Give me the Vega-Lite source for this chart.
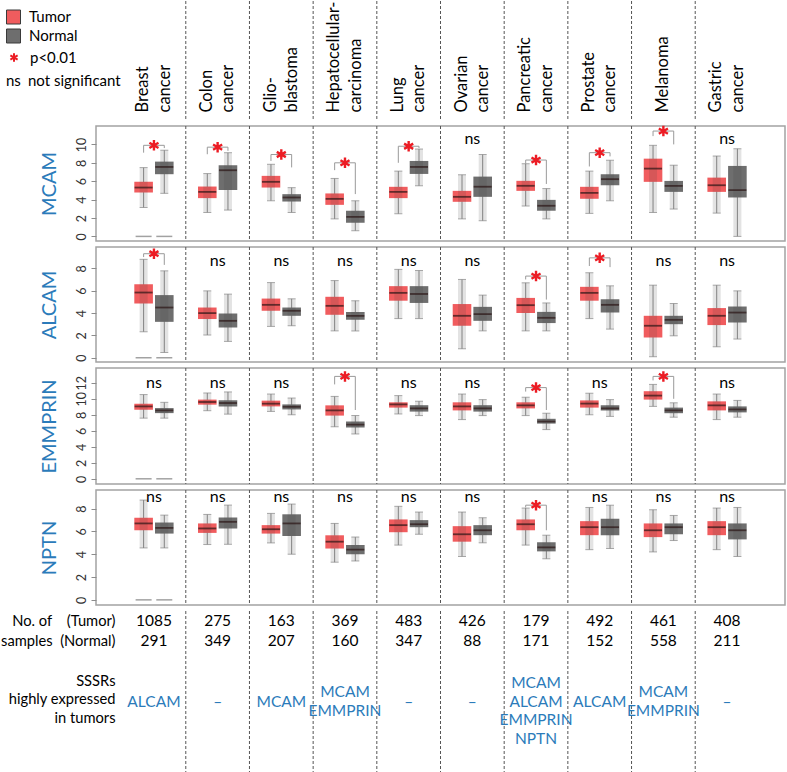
{
"$schema": "https://vega.github.io/schema/vega-lite/v6.json",
"padding": 0,
"background": "white",
"spacing": 6,
"bounds": "flush",
"config": {
  "font": "Lato",
  "view": {"stroke": null},
  "axisY": {"labelAngle": -90, "labelFontSize": 12.5, "labelColor": "#333333", "labelOverlap": false, "tickCount": 20, "tickColor": "#8c8c8c", "tickSize": 5, "tickWidth": 1, "labelPadding": 3, "domain": false, "grid": false, "titleColor": "#2b7bba", "titleFontSize": 20, "titleFontWeight": "normal", "titlePadding": 16},
  "legend": {"labelFontSize": 15, "labelColor": "#000000", "padding": 0, "rowPadding": 0, "labelOffset": 8, "titleFontSize": 15, "titleFontWeight": "normal", "titleColor": "#000000"}
},
"datasets": {
  "cancers": [
    {"cancer": "Breast cancer"}, {"cancer": "Colon cancer"}, {"cancer": "Glioblastoma"}, {"cancer": "Hepatocellular carcinoma"}, {"cancer": "Lung cancer"},
    {"cancer": "Ovarian cancer"}, {"cancer": "Pancreatic cancer"}, {"cancer": "Prostate cancer"}, {"cancer": "Melanoma"}, {"cancer": "Gastric cancer"}
  ],
  "boxes": [
    {"gene":"MCAM","cancer":"Breast cancer","group":"Tumor","lo":3.14,"q1":4.77,"med":5.31,"q3":5.93,"hi":7.48},
    {"gene":"MCAM","cancer":"Breast cancer","group":"Normal","lo":4.68,"q1":6.76,"med":7.55,"q3":8.13,"hi":9.37},
    {"gene":"MCAM","cancer":"Colon cancer","group":"Tumor","lo":2.6,"q1":4.16,"med":4.84,"q3":5.42,"hi":6.83},
    {"gene":"MCAM","cancer":"Colon cancer","group":"Normal","lo":2.86,"q1":5.03,"med":7.19,"q3":7.74,"hi":9.1},
    {"gene":"MCAM","cancer":"Glioblastoma","group":"Tumor","lo":3.87,"q1":5.31,"med":5.93,"q3":6.58,"hi":7.84},
    {"gene":"MCAM","cancer":"Glioblastoma","group":"Normal","lo":2.6,"q1":3.79,"med":4.23,"q3":4.59,"hi":5.3},
    {"gene":"MCAM","cancer":"Hepatocellular carcinoma","group":"Tumor","lo":1.9,"q1":3.43,"med":4.08,"q3":4.67,"hi":6.3},
    {"gene":"MCAM","cancer":"Hepatocellular carcinoma","group":"Normal","lo":0.62,"q1":1.48,"med":2.13,"q3":2.79,"hi":3.87},
    {"gene":"MCAM","cancer":"Lung cancer","group":"Tumor","lo":2.46,"q1":4.16,"med":4.84,"q3":5.39,"hi":7.1},
    {"gene":"MCAM","cancer":"Lung cancer","group":"Normal","lo":5.5,"q1":6.79,"med":7.55,"q3":8.2,"hi":9.5},
    {"gene":"MCAM","cancer":"Ovarian cancer","group":"Tumor","lo":1.9,"q1":3.76,"med":4.3,"q3":4.95,"hi":6.7},
    {"gene":"MCAM","cancer":"Ovarian cancer","group":"Normal","lo":1.7,"q1":4.3,"med":5.4,"q3":6.5,"hi":8.9},
    {"gene":"MCAM","cancer":"Pancreatic cancer","group":"Tumor","lo":3.3,"q1":4.95,"med":5.5,"q3":6.04,"hi":7.9},
    {"gene":"MCAM","cancer":"Pancreatic cancer","group":"Normal","lo":1.9,"q1":2.79,"med":3.33,"q3":3.97,"hi":5.2},
    {"gene":"MCAM","cancer":"Prostate cancer","group":"Tumor","lo":2.5,"q1":4.09,"med":4.73,"q3":5.39,"hi":7.1},
    {"gene":"MCAM","cancer":"Prostate cancer","group":"Normal","lo":3.87,"q1":5.57,"med":6.22,"q3":6.76,"hi":8.28},
    {"gene":"MCAM","cancer":"Melanoma","group":"Tumor","lo":2.6,"q1":5.93,"med":7.37,"q3":8.45,"hi":9.9},
    {"gene":"MCAM","cancer":"Melanoma","group":"Normal","lo":2.97,"q1":4.84,"med":5.49,"q3":6.03,"hi":7.74},
    {"gene":"MCAM","cancer":"Gastric cancer","group":"Tumor","lo":2.53,"q1":4.84,"med":5.56,"q3":6.39,"hi":8.74},
    {"gene":"MCAM","cancer":"Gastric cancer","group":"Normal","lo":0,"q1":4.23,"med":5.03,"q3":7.66,"hi":9.53},

    {"gene":"ALCAM","cancer":"Breast cancer","group":"Tumor","lo":2.32,"q1":4.85,"med":5.83,"q3":6.58,"hi":8.8},
    {"gene":"ALCAM","cancer":"Breast cancer","group":"Normal","lo":0.47,"q1":3.21,"med":4.49,"q3":5.6,"hi":7.77},
    {"gene":"ALCAM","cancer":"Colon cancer","group":"Tumor","lo":2.03,"q1":3.46,"med":3.99,"q3":4.49,"hi":5.98},
    {"gene":"ALCAM","cancer":"Colon cancer","group":"Normal","lo":1.46,"q1":2.71,"med":3.3,"q3":3.96,"hi":5.69},
    {"gene":"ALCAM","cancer":"Glioblastoma","group":"Tumor","lo":2.8,"q1":4.2,"med":4.73,"q3":5.29,"hi":6.72},
    {"gene":"ALCAM","cancer":"Glioblastoma","group":"Normal","lo":2.86,"q1":3.75,"med":4.2,"q3":4.49,"hi":5.27},
    {"gene":"ALCAM","cancer":"Hepatocellular carcinoma","group":"Tumor","lo":2.4,"q1":3.84,"med":4.64,"q3":5.45,"hi":6.9},
    {"gene":"ALCAM","cancer":"Hepatocellular carcinoma","group":"Normal","lo":2.4,"q1":3.39,"med":3.75,"q3":4.1,"hi":5.1},
    {"gene":"ALCAM","cancer":"Lung cancer","group":"Tumor","lo":3.5,"q1":5.1,"med":5.8,"q3":6.4,"hi":7.9},
    {"gene":"ALCAM","cancer":"Lung cancer","group":"Normal","lo":3.5,"q1":4.9,"med":5.7,"q3":6.4,"hi":7.8},
    {"gene":"ALCAM","cancer":"Ovarian cancer","group":"Tumor","lo":0.8,"q1":2.86,"med":3.75,"q3":4.8,"hi":7.0},
    {"gene":"ALCAM","cancer":"Ovarian cancer","group":"Normal","lo":2.4,"q1":3.3,"med":3.9,"q3":4.55,"hi":5.6},
    {"gene":"ALCAM","cancer":"Pancreatic cancer","group":"Tumor","lo":2.4,"q1":4.0,"med":4.7,"q3":5.35,"hi":6.7},
    {"gene":"ALCAM","cancer":"Pancreatic cancer","group":"Normal","lo":2.4,"q1":3.1,"med":3.57,"q3":4.1,"hi":4.9},
    {"gene":"ALCAM","cancer":"Prostate cancer","group":"Tumor","lo":3.5,"q1":5.1,"med":5.8,"q3":6.34,"hi":7.6},
    {"gene":"ALCAM","cancer":"Prostate cancer","group":"Normal","lo":2.56,"q1":4.04,"med":4.73,"q3":5.24,"hi":6.43},
    {"gene":"ALCAM","cancer":"Melanoma","group":"Tumor","lo":0.09,"q1":1.81,"med":2.86,"q3":3.75,"hi":6.49},
    {"gene":"ALCAM","cancer":"Melanoma","group":"Normal","lo":1.96,"q1":3.0,"med":3.39,"q3":3.75,"hi":4.85},
    {"gene":"ALCAM","cancer":"Gastric cancer","group":"Tumor","lo":0.98,"q1":2.92,"med":3.75,"q3":4.44,"hi":6.49},
    {"gene":"ALCAM","cancer":"Gastric cancer","group":"Normal","lo":1.67,"q1":3.15,"med":4.04,"q3":4.58,"hi":5.98},

    {"gene":"EMMPRIN","cancer":"Breast cancer","group":"Tumor","lo":7.58,"q1":8.64,"med":9.05,"q3":9.39,"hi":10.53},
    {"gene":"EMMPRIN","cancer":"Breast cancer","group":"Normal","lo":7.58,"q1":8.21,"med":8.55,"q3":8.84,"hi":9.56},
    {"gene":"EMMPRIN","cancer":"Colon cancer","group":"Tumor","lo":8.51,"q1":9.27,"med":9.6,"q3":9.9,"hi":10.73},
    {"gene":"EMMPRIN","cancer":"Colon cancer","group":"Normal","lo":8.08,"q1":9.05,"med":9.47,"q3":9.81,"hi":10.86},
    {"gene":"EMMPRIN","cancer":"Glioblastoma","group":"Tumor","lo":8.42,"q1":9.05,"med":9.39,"q3":9.77,"hi":10.6},
    {"gene":"EMMPRIN","cancer":"Glioblastoma","group":"Normal","lo":8.0,"q1":8.67,"med":9.0,"q3":9.3,"hi":10.1},
    {"gene":"EMMPRIN","cancer":"Hepatocellular carcinoma","group":"Tumor","lo":6.5,"q1":7.9,"med":8.55,"q3":9.18,"hi":10.3},
    {"gene":"EMMPRIN","cancer":"Hepatocellular carcinoma","group":"Normal","lo":5.6,"q1":6.4,"med":6.78,"q3":7.15,"hi":7.9},
    {"gene":"EMMPRIN","cancer":"Lung cancer","group":"Tumor","lo":8.1,"q1":8.9,"med":9.3,"q3":9.56,"hi":10.4},
    {"gene":"EMMPRIN","cancer":"Lung cancer","group":"Normal","lo":7.9,"q1":8.4,"med":8.8,"q3":9.2,"hi":9.7},
    {"gene":"EMMPRIN","cancer":"Ovarian cancer","group":"Tumor","lo":7.4,"q1":8.55,"med":9.05,"q3":9.56,"hi":10.6},
    {"gene":"EMMPRIN","cancer":"Ovarian cancer","group":"Normal","lo":7.9,"q1":8.4,"med":8.8,"q3":9.2,"hi":9.9},
    {"gene":"EMMPRIN","cancer":"Pancreatic cancer","group":"Tumor","lo":7.9,"q1":8.8,"med":9.18,"q3":9.56,"hi":10.2},
    {"gene":"EMMPRIN","cancer":"Pancreatic cancer","group":"Normal","lo":6.15,"q1":6.9,"med":7.16,"q3":7.5,"hi":8.2},
    {"gene":"EMMPRIN","cancer":"Prostate cancer","group":"Tumor","lo":8.0,"q1":8.9,"med":9.4,"q3":9.8,"hi":10.7},
    {"gene":"EMMPRIN","cancer":"Prostate cancer","group":"Normal","lo":7.8,"q1":8.55,"med":8.8,"q3":9.2,"hi":9.9},
    {"gene":"EMMPRIN","cancer":"Melanoma","group":"Tumor","lo":9.05,"q1":9.9,"med":10.4,"q3":10.95,"hi":11.8},
    {"gene":"EMMPRIN","cancer":"Melanoma","group":"Normal","lo":7.7,"q1":8.2,"med":8.55,"q3":8.9,"hi":9.5},
    {"gene":"EMMPRIN","cancer":"Gastric cancer","group":"Tumor","lo":7.4,"q1":8.55,"med":9.18,"q3":9.68,"hi":10.6},
    {"gene":"EMMPRIN","cancer":"Gastric cancer","group":"Normal","lo":7.7,"q1":8.3,"med":8.67,"q3":9.05,"hi":9.8},

    {"gene":"NPTN","cancer":"Breast cancer","group":"Tumor","lo":4.55,"q1":6.1,"med":6.7,"q3":7.19,"hi":8.75},
    {"gene":"NPTN","cancer":"Breast cancer","group":"Normal","lo":4.55,"q1":5.81,"med":6.31,"q3":6.78,"hi":7.43},
    {"gene":"NPTN","cancer":"Colon cancer","group":"Tumor","lo":4.85,"q1":5.87,"med":6.26,"q3":6.7,"hi":7.49},
    {"gene":"NPTN","cancer":"Colon cancer","group":"Normal","lo":4.87,"q1":6.26,"med":6.84,"q3":7.22,"hi":8.31},
    {"gene":"NPTN","cancer":"Glioblastoma","group":"Tumor","lo":4.99,"q1":5.81,"med":6.19,"q3":6.55,"hi":7.58},
    {"gene":"NPTN","cancer":"Glioblastoma","group":"Normal","lo":4.0,"q1":5.6,"med":6.7,"q3":7.5,"hi":8.4},
    {"gene":"NPTN","cancer":"Hepatocellular carcinoma","group":"Tumor","lo":3.3,"q1":4.5,"med":5.1,"q3":5.66,"hi":6.7},
    {"gene":"NPTN","cancer":"Hepatocellular carcinoma","group":"Normal","lo":3.4,"q1":4.0,"med":4.4,"q3":4.8,"hi":5.5},
    {"gene":"NPTN","cancer":"Lung cancer","group":"Tumor","lo":4.8,"q1":5.93,"med":6.55,"q3":7.05,"hi":8.2},
    {"gene":"NPTN","cancer":"Lung cancer","group":"Normal","lo":5.75,"q1":6.37,"med":6.63,"q3":6.99,"hi":7.7},
    {"gene":"NPTN","cancer":"Ovarian cancer","group":"Tumor","lo":3.8,"q1":5.1,"med":5.75,"q3":6.46,"hi":7.7},
    {"gene":"NPTN","cancer":"Ovarian cancer","group":"Normal","lo":5.0,"q1":5.67,"med":6.1,"q3":6.55,"hi":7.2},
    {"gene":"NPTN","cancer":"Pancreatic cancer","group":"Tumor","lo":4.8,"q1":6.1,"med":6.63,"q3":7.05,"hi":8.05},
    {"gene":"NPTN","cancer":"Pancreatic cancer","group":"Normal","lo":3.6,"q1":4.25,"med":4.6,"q3":5.05,"hi":5.67},
    {"gene":"NPTN","cancer":"Prostate cancer","group":"Tumor","lo":4.4,"q1":5.67,"med":6.37,"q3":6.9,"hi":8.1},
    {"gene":"NPTN","cancer":"Prostate cancer","group":"Normal","lo":4.5,"q1":5.67,"med":6.37,"q3":7.1,"hi":8.3},
    {"gene":"NPTN","cancer":"Melanoma","group":"Tumor","lo":4.2,"q1":5.5,"med":6.1,"q3":6.7,"hi":7.9},
    {"gene":"NPTN","cancer":"Melanoma","group":"Normal","lo":5.2,"q1":5.75,"med":6.37,"q3":6.7,"hi":7.4},
    {"gene":"NPTN","cancer":"Gastric cancer","group":"Tumor","lo":4.4,"q1":5.67,"med":6.37,"q3":6.9,"hi":8.05},
    {"gene":"NPTN","cancer":"Gastric cancer","group":"Normal","lo":3.8,"q1":5.3,"med":6.1,"q3":6.7,"hi":8.1}
  ],
  "zeros": [
    {"gene":"MCAM","cancer":"Breast cancer","group":"Tumor","v":0},
    {"gene":"MCAM","cancer":"Breast cancer","group":"Normal","v":0},
    {"gene":"ALCAM","cancer":"Breast cancer","group":"Tumor","v":0},
    {"gene":"ALCAM","cancer":"Breast cancer","group":"Normal","v":0},
    {"gene":"EMMPRIN","cancer":"Breast cancer","group":"Tumor","v":0},
    {"gene":"EMMPRIN","cancer":"Breast cancer","group":"Normal","v":0},
    {"gene":"NPTN","cancer":"Breast cancer","group":"Tumor","v":0},
    {"gene":"NPTN","cancer":"Breast cancer","group":"Normal","v":0}
  ],
  "sig": [
    {"gene":"MCAM","cancer":"Breast cancer","sig":"*","y":9.9},
    {"gene":"MCAM","cancer":"Colon cancer","sig":"*","y":9.7},
    {"gene":"MCAM","cancer":"Glioblastoma","sig":"*","y":8.9},
    {"gene":"MCAM","cancer":"Hepatocellular carcinoma","sig":"*","y":8.0},
    {"gene":"MCAM","cancer":"Lung cancer","sig":"*","y":9.8},
    {"gene":"MCAM","cancer":"Ovarian cancer","sig":"ns","y":10.58},
    {"gene":"MCAM","cancer":"Pancreatic cancer","sig":"*","y":8.3},
    {"gene":"MCAM","cancer":"Prostate cancer","sig":"*","y":9.1},
    {"gene":"MCAM","cancer":"Melanoma","sig":"*","y":11.45},
    {"gene":"MCAM","cancer":"Gastric cancer","sig":"ns","y":10.58},
    {"gene":"ALCAM","cancer":"Breast cancer","sig":"*","y":9.3},
    {"gene":"ALCAM","cancer":"Colon cancer","sig":"ns","y":8.66},
    {"gene":"ALCAM","cancer":"Glioblastoma","sig":"ns","y":8.66},
    {"gene":"ALCAM","cancer":"Hepatocellular carcinoma","sig":"ns","y":8.66},
    {"gene":"ALCAM","cancer":"Lung cancer","sig":"ns","y":8.66},
    {"gene":"ALCAM","cancer":"Ovarian cancer","sig":"ns","y":8.66},
    {"gene":"ALCAM","cancer":"Pancreatic cancer","sig":"*","y":7.3},
    {"gene":"ALCAM","cancer":"Prostate cancer","sig":"*","y":8.93},
    {"gene":"ALCAM","cancer":"Melanoma","sig":"ns","y":8.66},
    {"gene":"ALCAM","cancer":"Gastric cancer","sig":"ns","y":8.66},
    {"gene":"EMMPRIN","cancer":"Breast cancer","sig":"ns","y":12.03},
    {"gene":"EMMPRIN","cancer":"Colon cancer","sig":"ns","y":12.03},
    {"gene":"EMMPRIN","cancer":"Glioblastoma","sig":"ns","y":12.03},
    {"gene":"EMMPRIN","cancer":"Hepatocellular carcinoma","sig":"*","y":12.8},
    {"gene":"EMMPRIN","cancer":"Lung cancer","sig":"ns","y":12.03},
    {"gene":"EMMPRIN","cancer":"Ovarian cancer","sig":"ns","y":12.03},
    {"gene":"EMMPRIN","cancer":"Pancreatic cancer","sig":"*","y":11.4},
    {"gene":"EMMPRIN","cancer":"Prostate cancer","sig":"ns","y":12.03},
    {"gene":"EMMPRIN","cancer":"Melanoma","sig":"*","y":12.8},
    {"gene":"EMMPRIN","cancer":"Gastric cancer","sig":"ns","y":12.03},
    {"gene":"NPTN","cancer":"Breast cancer","sig":"ns","y":8.99},
    {"gene":"NPTN","cancer":"Colon cancer","sig":"ns","y":8.99},
    {"gene":"NPTN","cancer":"Glioblastoma","sig":"ns","y":8.99},
    {"gene":"NPTN","cancer":"Hepatocellular carcinoma","sig":"ns","y":8.99},
    {"gene":"NPTN","cancer":"Lung cancer","sig":"ns","y":8.99},
    {"gene":"NPTN","cancer":"Ovarian cancer","sig":"ns","y":8.99},
    {"gene":"NPTN","cancer":"Pancreatic cancer","sig":"*","y":8.3},
    {"gene":"NPTN","cancer":"Prostate cancer","sig":"ns","y":8.99},
    {"gene":"NPTN","cancer":"Melanoma","sig":"ns","y":8.99},
    {"gene":"NPTN","cancer":"Gastric cancer","sig":"ns","y":8.99}
  ],
  "brackets": [
    {"gene":"MCAM","cancer":"Breast cancer","group":"Tumor","k":0,"v":9.1},{"gene":"MCAM","cancer":"Breast cancer","group":"Tumor","k":1,"v":9.9},{"gene":"MCAM","cancer":"Breast cancer","group":"Normal","k":2,"v":9.9},{"gene":"MCAM","cancer":"Breast cancer","group":"Normal","k":3,"v":9.6},
    {"gene":"MCAM","cancer":"Colon cancer","group":"Tumor","k":0,"v":8.93},{"gene":"MCAM","cancer":"Colon cancer","group":"Tumor","k":1,"v":9.7},{"gene":"MCAM","cancer":"Colon cancer","group":"Normal","k":2,"v":9.7},{"gene":"MCAM","cancer":"Colon cancer","group":"Normal","k":3,"v":9.3},
    {"gene":"MCAM","cancer":"Glioblastoma","group":"Tumor","k":0,"v":8.2},{"gene":"MCAM","cancer":"Glioblastoma","group":"Tumor","k":1,"v":8.9},{"gene":"MCAM","cancer":"Glioblastoma","group":"Normal","k":2,"v":8.9},{"gene":"MCAM","cancer":"Glioblastoma","group":"Normal","k":3,"v":7.5},
    {"gene":"MCAM","cancer":"Hepatocellular carcinoma","group":"Tumor","k":0,"v":7.2},{"gene":"MCAM","cancer":"Hepatocellular carcinoma","group":"Tumor","k":1,"v":8.0},{"gene":"MCAM","cancer":"Hepatocellular carcinoma","group":"Normal","k":2,"v":8.0},{"gene":"MCAM","cancer":"Hepatocellular carcinoma","group":"Normal","k":3,"v":4.6},
    {"gene":"MCAM","cancer":"Lung cancer","group":"Tumor","k":0,"v":8.0},{"gene":"MCAM","cancer":"Lung cancer","group":"Tumor","k":1,"v":9.8},{"gene":"MCAM","cancer":"Lung cancer","group":"Normal","k":2,"v":9.8},{"gene":"MCAM","cancer":"Lung cancer","group":"Normal","k":3,"v":9.6},
    {"gene":"MCAM","cancer":"Pancreatic cancer","group":"Tumor","k":0,"v":7.9},{"gene":"MCAM","cancer":"Pancreatic cancer","group":"Tumor","k":1,"v":8.3},{"gene":"MCAM","cancer":"Pancreatic cancer","group":"Normal","k":2,"v":8.3},{"gene":"MCAM","cancer":"Pancreatic cancer","group":"Normal","k":3,"v":5.7},
    {"gene":"MCAM","cancer":"Prostate cancer","group":"Tumor","k":0,"v":7.6},{"gene":"MCAM","cancer":"Prostate cancer","group":"Tumor","k":1,"v":9.1},{"gene":"MCAM","cancer":"Prostate cancer","group":"Normal","k":2,"v":9.1},{"gene":"MCAM","cancer":"Prostate cancer","group":"Normal","k":3,"v":8.7},
    {"gene":"MCAM","cancer":"Melanoma","group":"Tumor","k":0,"v":10.9},{"gene":"MCAM","cancer":"Melanoma","group":"Tumor","k":1,"v":11.45},{"gene":"MCAM","cancer":"Melanoma","group":"Normal","k":2,"v":11.45},{"gene":"MCAM","cancer":"Melanoma","group":"Normal","k":3,"v":10.0},
    {"gene":"ALCAM","cancer":"Breast cancer","group":"Tumor","k":0,"v":9.0},{"gene":"ALCAM","cancer":"Breast cancer","group":"Tumor","k":1,"v":9.3},{"gene":"ALCAM","cancer":"Breast cancer","group":"Normal","k":2,"v":9.3},{"gene":"ALCAM","cancer":"Breast cancer","group":"Normal","k":3,"v":8.3},
    {"gene":"ALCAM","cancer":"Pancreatic cancer","group":"Tumor","k":0,"v":7.0},{"gene":"ALCAM","cancer":"Pancreatic cancer","group":"Tumor","k":1,"v":7.3},{"gene":"ALCAM","cancer":"Pancreatic cancer","group":"Normal","k":2,"v":7.3},{"gene":"ALCAM","cancer":"Pancreatic cancer","group":"Normal","k":3,"v":5.2},
    {"gene":"ALCAM","cancer":"Prostate cancer","group":"Tumor","k":0,"v":8.2},{"gene":"ALCAM","cancer":"Prostate cancer","group":"Tumor","k":1,"v":8.93},{"gene":"ALCAM","cancer":"Prostate cancer","group":"Normal","k":2,"v":8.93},{"gene":"ALCAM","cancer":"Prostate cancer","group":"Normal","k":3,"v":8.1},
    {"gene":"EMMPRIN","cancer":"Hepatocellular carcinoma","group":"Tumor","k":0,"v":11.8},{"gene":"EMMPRIN","cancer":"Hepatocellular carcinoma","group":"Tumor","k":1,"v":12.8},{"gene":"EMMPRIN","cancer":"Hepatocellular carcinoma","group":"Normal","k":2,"v":12.8},{"gene":"EMMPRIN","cancer":"Hepatocellular carcinoma","group":"Normal","k":3,"v":8.6},
    {"gene":"EMMPRIN","cancer":"Pancreatic cancer","group":"Tumor","k":0,"v":10.9},{"gene":"EMMPRIN","cancer":"Pancreatic cancer","group":"Tumor","k":1,"v":11.4},{"gene":"EMMPRIN","cancer":"Pancreatic cancer","group":"Normal","k":2,"v":11.4},{"gene":"EMMPRIN","cancer":"Pancreatic cancer","group":"Normal","k":3,"v":8.6},
    {"gene":"EMMPRIN","cancer":"Melanoma","group":"Tumor","k":0,"v":12.3},{"gene":"EMMPRIN","cancer":"Melanoma","group":"Tumor","k":1,"v":12.8},{"gene":"EMMPRIN","cancer":"Melanoma","group":"Normal","k":2,"v":12.8},{"gene":"EMMPRIN","cancer":"Melanoma","group":"Normal","k":3,"v":10.0},
    {"gene":"NPTN","cancer":"Pancreatic cancer","group":"Tumor","k":0,"v":8.1},{"gene":"NPTN","cancer":"Pancreatic cancer","group":"Tumor","k":1,"v":8.3},{"gene":"NPTN","cancer":"Pancreatic cancer","group":"Normal","k":2,"v":8.3},{"gene":"NPTN","cancer":"Pancreatic cancer","group":"Normal","k":3,"v":6.1}
  ],
  "table": [
    {"cancer":"Breast cancer","row":"tumor","text":"1085"},{"cancer":"Breast cancer","row":"normal","text":"291"},{"cancer":"Breast cancer","row":"sssr","text":"ALCAM"},
    {"cancer":"Colon cancer","row":"tumor","text":"275"},{"cancer":"Colon cancer","row":"normal","text":"349"},{"cancer":"Colon cancer","row":"sssr","text":"–"},
    {"cancer":"Glioblastoma","row":"tumor","text":"163"},{"cancer":"Glioblastoma","row":"normal","text":"207"},{"cancer":"Glioblastoma","row":"sssr","text":"MCAM"},
    {"cancer":"Hepatocellular carcinoma","row":"tumor","text":"369"},{"cancer":"Hepatocellular carcinoma","row":"normal","text":"160"},{"cancer":"Hepatocellular carcinoma","row":"sssr","text":"MCAM\nEMMPRIN"},
    {"cancer":"Lung cancer","row":"tumor","text":"483"},{"cancer":"Lung cancer","row":"normal","text":"347"},{"cancer":"Lung cancer","row":"sssr","text":"–"},
    {"cancer":"Ovarian cancer","row":"tumor","text":"426"},{"cancer":"Ovarian cancer","row":"normal","text":"88"},{"cancer":"Ovarian cancer","row":"sssr","text":"–"},
    {"cancer":"Pancreatic cancer","row":"tumor","text":"179"},{"cancer":"Pancreatic cancer","row":"normal","text":"171"},{"cancer":"Pancreatic cancer","row":"sssr","text":"MCAM\nALCAM\nEMMPRIN\nNPTN"},
    {"cancer":"Prostate cancer","row":"tumor","text":"492"},{"cancer":"Prostate cancer","row":"normal","text":"152"},{"cancer":"Prostate cancer","row":"sssr","text":"ALCAM"},
    {"cancer":"Melanoma","row":"tumor","text":"461"},{"cancer":"Melanoma","row":"normal","text":"558"},{"cancer":"Melanoma","row":"sssr","text":"MCAM\nEMMPRIN"},
    {"cancer":"Gastric cancer","row":"tumor","text":"408"},{"cancer":"Gastric cancer","row":"normal","text":"211"},{"cancer":"Gastric cancer","row":"sssr","text":"–"}
  ]
},
"vconcat": [
  {
    "width": 689, "height": 119,
    "data": {"name": "cancers"},
    "transform": [{"filter": "datum.cancer !== 'Breast cancer'"}],
    "mark": {"type": "rule", "color": "#555555", "strokeDash": [3, 2], "strokeWidth": 1},
    "encoding": {
      "x": {"field": "cancer", "type": "nominal", "bandPosition": 0,
        "scale": {"type":"band","domain":["Breast cancer","Colon cancer","Glioblastoma","Hepatocellular carcinoma","Lung cancer","Ovarian cancer","Pancreatic cancer","Prostate cancer","Melanoma","Gastric cancer"],"paddingInner":0,"paddingOuter":0.41},
        "axis": {"orient": "bottom", "title": null, "ticks": false, "tickSize": 0, "domain": false, "grid": false, "labelAngle": -90, "labelAlign": "left", "labelBaseline": "middle", "labelPadding": -8, "labelFontSize": 16.5, "labelColor": "#000000", "labelLineHeight": 21.5, "labelOverlap": false, "labelLimit": 200,
          "labelOffset": {"condition": {"test": "datum.value === 'Melanoma'", "value": 0}, "value": -10.75},
          "labelExpr": "datum.value === 'Glioblastoma' ? ['Glio-', 'blastoma'] : datum.value === 'Hepatocellular carcinoma' ? ['Hepatocellular-', 'carcinoma'] : split(datum.value, ' ')"}}
    }
  },
  {
    "width": 689, "height": 115,
    "view": {"stroke": "#a3a3a3", "strokeWidth": 1.5},
    "layer": [
      {"data": {"name": "cancers"}, "transform": [{"filter": "datum.cancer !== 'Breast cancer'"}],
       "mark": {"type": "rule", "color": "#555555", "strokeDash": [3, 2], "strokeWidth": 1},
       "encoding": {"x": {"field": "cancer", "type": "nominal", "bandPosition": 0, "scale": {"type":"band","domain":["Breast cancer","Colon cancer","Glioblastoma","Hepatocellular carcinoma","Lung cancer","Ovarian cancer","Pancreatic cancer","Prostate cancer","Melanoma","Gastric cancer"],"paddingInner":0,"paddingOuter":0.41}, "axis": null}}},
      {"data": {"name": "boxes"}, "transform": [{"filter": "datum.gene === 'MCAM'"}],
       "encoding": {"x": {"field": "cancer", "type": "nominal", "axis": null}, "xOffset": {"field": "group", "type": "nominal", "scale": {"type":"band","domain":["Tumor","Normal"],"paddingInner":0.1,"paddingOuter":0.59}}},
       "layer": [
         {"mark": {"type": "rule", "color": "#8e8e8e", "strokeWidth": 1}, "encoding": {"y": {"field": "lo", "type": "quantitative", "title": "MCAM", "scale": {"domain": [-0.5, 12], "nice": false, "zero": false}, "axis": {"values": [0, 2, 4, 6, 8, 10], "tickCount": 20, "format": "d"}}, "y2": {"field": "hi"}}},
         {"mark": {"type": "tick", "color": "#8e8e8e", "size": 8, "thickness": 1}, "encoding": {"y": {"field": "lo", "type": "quantitative", "title": "MCAM"}}},
         {"mark": {"type": "tick", "color": "#8e8e8e", "size": 8, "thickness": 1}, "encoding": {"y": {"field": "hi", "type": "quantitative", "title": "MCAM"}}},
         {"mark": {"type": "bar", "opacity": 1}, "encoding": {"y": {"field": "q1", "type": "quantitative", "title": "MCAM"}, "y2": {"field": "q3"},
           "fill": {"field": "group", "type": "nominal", "scale": {"domain": ["Tumor", "Normal"], "range": ["#f05c5e", "#6e6e6e"]},
             "legend": {"title": null, "orient": "none", "legendX": -90, "legendY": 8.5, "symbolType": "square", "symbolSize": 196, "symbolStrokeColor": "#3a3a3a", "symbolStrokeWidth": 1, "symbolOpacity": 1}}}},
         {"mark": {"type": "bar", "width": 8, "color": "#3c3c3c", "opacity": 0.14}, "encoding": {"y": {"field": "lo", "type": "quantitative", "title": "MCAM"}, "y2": {"field": "hi"}}},
         {"mark": {"type": "tick", "color": "#2b1515", "size": 18, "thickness": 1.8}, "encoding": {"y": {"field": "med", "type": "quantitative", "title": "MCAM"}}}
       ]},
      {"data": {"name": "zeros"}, "transform": [{"filter": "datum.gene === 'MCAM'"}],
       "mark": {"type": "tick", "color": "#7a7a7a", "size": 16, "thickness": 1.5},
       "encoding": {"x": {"field": "cancer", "type": "nominal", "axis": null}, "xOffset": {"field": "group", "type": "nominal"}, "y": {"field": "v", "type": "quantitative", "title": "MCAM"}}},
      {"data": {"name": "brackets"}, "transform": [{"filter": "datum.gene === 'MCAM'"}],
       "mark": {"type": "line", "color": "#9a9a9a", "strokeWidth": 1},
       "encoding": {"x": {"field": "cancer", "type": "nominal", "axis": null}, "xOffset": {"field": "group", "type": "nominal"}, "y": {"field": "v", "type": "quantitative", "title": "MCAM"}, "detail": {"field": "cancer"}, "order": {"field": "k"}}},
      {"data": {"name": "sig"}, "transform": [{"filter": "datum.gene === 'MCAM' && datum.sig === '*'"}],
       "mark": {"type": "point", "shape": "M0,-1L0,1M-0.866,-0.5L0.866,0.5M-0.866,0.5L0.866,-0.5", "filled": false, "strokeWidth": 2.4, "size": 110, "opacity": 1},
       "encoding": {"x": {"field": "cancer", "type": "nominal", "axis": null}, "y": {"field": "y", "type": "quantitative", "title": "MCAM"},
         "stroke": {"field": "sig", "type": "nominal", "scale": {"domain": ["*"], "range": ["#ec1c24"]},
           "legend": {"title": null, "orient": "none", "legendX": -90, "legendY": 48.5, "symbolType": "M0,-0.6L0,0.6M-0.52,-0.3L0.52,0.3M-0.52,0.3L0.52,-0.3", "symbolSize": 196, "symbolStrokeWidth": 2, "labelExpr": "'p<0.01'"}}}},
      {"data": {"name": "sig"}, "transform": [{"filter": "datum.gene === 'MCAM' && datum.sig === 'ns'"}],
       "mark": {"type": "text", "fontSize": 16, "baseline": "middle"},
       "encoding": {"x": {"field": "cancer", "type": "nominal", "axis": null}, "y": {"field": "y", "type": "quantitative", "title": "MCAM"}, "text": {"field": "sig"},
         "color": {"field": "sig", "type": "nominal", "scale": {"domain": ["ns"], "range": ["#000000"]},
           "legend": {"title": "ns", "titleOrient": "left", "titlePadding": -8, "orient": "none", "legendX": -90, "legendY": 72, "symbolSize": 1, "symbolOpacity": 0, "labelOffset": 0, "labelExpr": "'not significant'"}}}}
    ]
  },
  {
    "width": 689, "height": 115,
    "view": {"stroke": "#a3a3a3", "strokeWidth": 1.5},
    "layer": [
      {"data": {"name": "cancers"}, "transform": [{"filter": "datum.cancer !== 'Breast cancer'"}],
       "mark": {"type": "rule", "color": "#555555", "strokeDash": [3, 2], "strokeWidth": 1},
       "encoding": {"x": {"field": "cancer", "type": "nominal", "bandPosition": 0, "scale": {"type":"band","domain":["Breast cancer","Colon cancer","Glioblastoma","Hepatocellular carcinoma","Lung cancer","Ovarian cancer","Pancreatic cancer","Prostate cancer","Melanoma","Gastric cancer"],"paddingInner":0,"paddingOuter":0.41}, "axis": null}}},
      {"data": {"name": "boxes"}, "transform": [{"filter": "datum.gene === 'ALCAM'"}],
       "encoding": {"x": {"field": "cancer", "type": "nominal", "axis": null}, "xOffset": {"field": "group", "type": "nominal", "scale": {"type":"band","domain":["Tumor","Normal"],"paddingInner":0.1,"paddingOuter":0.59}}},
       "layer": [
         {"mark": {"type": "rule", "color": "#8e8e8e", "strokeWidth": 1}, "encoding": {"y": {"field": "lo", "type": "quantitative", "title": "ALCAM", "scale": {"domain": [-0.38, 9.9], "nice": false, "zero": false}, "axis": {"values": [0, 2, 4, 6, 8], "tickCount": 20, "format": "d"}}, "y2": {"field": "hi"}}},
         {"mark": {"type": "tick", "color": "#8e8e8e", "size": 8, "thickness": 1}, "encoding": {"y": {"field": "lo", "type": "quantitative", "title": "ALCAM"}}},
         {"mark": {"type": "tick", "color": "#8e8e8e", "size": 8, "thickness": 1}, "encoding": {"y": {"field": "hi", "type": "quantitative", "title": "ALCAM"}}},
         {"mark": {"type": "bar", "opacity": 1}, "encoding": {"y": {"field": "q1", "type": "quantitative", "title": "ALCAM"}, "y2": {"field": "q3"},
           "fill": {"field": "group", "type": "nominal", "scale": {"domain": ["Tumor", "Normal"], "range": ["#f05c5e", "#6e6e6e"]}}}},
         {"mark": {"type": "bar", "width": 8, "color": "#3c3c3c", "opacity": 0.14}, "encoding": {"y": {"field": "lo", "type": "quantitative", "title": "ALCAM"}, "y2": {"field": "hi"}}},
         {"mark": {"type": "tick", "color": "#2b1515", "size": 18, "thickness": 1.8}, "encoding": {"y": {"field": "med", "type": "quantitative", "title": "ALCAM"}}}
       ]},
      {"data": {"name": "zeros"}, "transform": [{"filter": "datum.gene === 'ALCAM'"}],
       "mark": {"type": "tick", "color": "#7a7a7a", "size": 16, "thickness": 1.5},
       "encoding": {"x": {"field": "cancer", "type": "nominal", "axis": null}, "xOffset": {"field": "group", "type": "nominal"}, "y": {"field": "v", "type": "quantitative", "title": "ALCAM"}}},
      {"data": {"name": "brackets"}, "transform": [{"filter": "datum.gene === 'ALCAM'"}],
       "mark": {"type": "line", "color": "#9a9a9a", "strokeWidth": 1},
       "encoding": {"x": {"field": "cancer", "type": "nominal", "axis": null}, "xOffset": {"field": "group", "type": "nominal"}, "y": {"field": "v", "type": "quantitative", "title": "ALCAM"}, "detail": {"field": "cancer"}, "order": {"field": "k"}}},
      {"data": {"name": "sig"}, "transform": [{"filter": "datum.gene === 'ALCAM' && datum.sig === '*'"}],
       "mark": {"type": "point", "shape": "M0,-1L0,1M-0.866,-0.5L0.866,0.5M-0.866,0.5L0.866,-0.5", "filled": false, "strokeWidth": 2.4, "size": 110, "opacity": 1},
       "encoding": {"x": {"field": "cancer", "type": "nominal", "axis": null}, "y": {"field": "y", "type": "quantitative", "title": "ALCAM"},
         "stroke": {"field": "sig", "type": "nominal", "scale": {"domain": ["*"], "range": ["#ec1c24"]}}}},
      {"data": {"name": "sig"}, "transform": [{"filter": "datum.gene === 'ALCAM' && datum.sig === 'ns'"}],
       "mark": {"type": "text", "fontSize": 16, "baseline": "middle"},
       "encoding": {"x": {"field": "cancer", "type": "nominal", "axis": null}, "y": {"field": "y", "type": "quantitative", "title": "ALCAM"}, "text": {"field": "sig"},
         "color": {"field": "sig", "type": "nominal", "scale": {"domain": ["ns"], "range": ["#000000"]}}}}
    ]
  },
  {
    "width": 689, "height": 116,
    "view": {"stroke": "#a3a3a3", "strokeWidth": 1.5},
    "layer": [
      {"data": {"name": "cancers"}, "transform": [{"filter": "datum.cancer !== 'Breast cancer'"}],
       "mark": {"type": "rule", "color": "#555555", "strokeDash": [3, 2], "strokeWidth": 1},
       "encoding": {"x": {"field": "cancer", "type": "nominal", "bandPosition": 0, "scale": {"type":"band","domain":["Breast cancer","Colon cancer","Glioblastoma","Hepatocellular carcinoma","Lung cancer","Ovarian cancer","Pancreatic cancer","Prostate cancer","Melanoma","Gastric cancer"],"paddingInner":0,"paddingOuter":0.41}, "axis": null}}},
      {"data": {"name": "boxes"}, "transform": [{"filter": "datum.gene === 'EMMPRIN'"}],
       "encoding": {"x": {"field": "cancer", "type": "nominal", "axis": null}, "xOffset": {"field": "group", "type": "nominal", "scale": {"type":"band","domain":["Tumor","Normal"],"paddingInner":0.1,"paddingOuter":0.59}}},
       "layer": [
         {"mark": {"type": "rule", "color": "#8e8e8e", "strokeWidth": 1}, "encoding": {"y": {"field": "lo", "type": "quantitative", "title": "EMMPRIN", "scale": {"domain": [-0.65, 13.85], "nice": false, "zero": false}, "axis": {"values": [0, 2, 4, 6, 8, 10, 12], "tickCount": 20, "format": "d"}}, "y2": {"field": "hi"}}},
         {"mark": {"type": "tick", "color": "#8e8e8e", "size": 8, "thickness": 1}, "encoding": {"y": {"field": "lo", "type": "quantitative", "title": "EMMPRIN"}}},
         {"mark": {"type": "tick", "color": "#8e8e8e", "size": 8, "thickness": 1}, "encoding": {"y": {"field": "hi", "type": "quantitative", "title": "EMMPRIN"}}},
         {"mark": {"type": "bar", "opacity": 1}, "encoding": {"y": {"field": "q1", "type": "quantitative", "title": "EMMPRIN"}, "y2": {"field": "q3"},
           "fill": {"field": "group", "type": "nominal", "scale": {"domain": ["Tumor", "Normal"], "range": ["#f05c5e", "#6e6e6e"]}}}},
         {"mark": {"type": "bar", "width": 8, "color": "#3c3c3c", "opacity": 0.14}, "encoding": {"y": {"field": "lo", "type": "quantitative", "title": "EMMPRIN"}, "y2": {"field": "hi"}}},
         {"mark": {"type": "tick", "color": "#2b1515", "size": 18, "thickness": 1.8}, "encoding": {"y": {"field": "med", "type": "quantitative", "title": "EMMPRIN"}}}
       ]},
      {"data": {"name": "zeros"}, "transform": [{"filter": "datum.gene === 'EMMPRIN'"}],
       "mark": {"type": "tick", "color": "#7a7a7a", "size": 16, "thickness": 1.5},
       "encoding": {"x": {"field": "cancer", "type": "nominal", "axis": null}, "xOffset": {"field": "group", "type": "nominal"}, "y": {"field": "v", "type": "quantitative", "title": "EMMPRIN"}}},
      {"data": {"name": "brackets"}, "transform": [{"filter": "datum.gene === 'EMMPRIN'"}],
       "mark": {"type": "line", "color": "#9a9a9a", "strokeWidth": 1},
       "encoding": {"x": {"field": "cancer", "type": "nominal", "axis": null}, "xOffset": {"field": "group", "type": "nominal"}, "y": {"field": "v", "type": "quantitative", "title": "EMMPRIN"}, "detail": {"field": "cancer"}, "order": {"field": "k"}}},
      {"data": {"name": "sig"}, "transform": [{"filter": "datum.gene === 'EMMPRIN' && datum.sig === '*'"}],
       "mark": {"type": "point", "shape": "M0,-1L0,1M-0.866,-0.5L0.866,0.5M-0.866,0.5L0.866,-0.5", "filled": false, "strokeWidth": 2.4, "size": 110, "opacity": 1},
       "encoding": {"x": {"field": "cancer", "type": "nominal", "axis": null}, "y": {"field": "y", "type": "quantitative", "title": "EMMPRIN"},
         "stroke": {"field": "sig", "type": "nominal", "scale": {"domain": ["*"], "range": ["#ec1c24"]}}}},
      {"data": {"name": "sig"}, "transform": [{"filter": "datum.gene === 'EMMPRIN' && datum.sig === 'ns'"}],
       "mark": {"type": "text", "fontSize": 16, "baseline": "middle"},
       "encoding": {"x": {"field": "cancer", "type": "nominal", "axis": null}, "y": {"field": "y", "type": "quantitative", "title": "EMMPRIN"}, "text": {"field": "sig"},
         "color": {"field": "sig", "type": "nominal", "scale": {"domain": ["ns"], "range": ["#000000"]}}}}
    ]
  },
  {
    "width": 689, "height": 115,
    "view": {"stroke": "#a3a3a3", "strokeWidth": 1.5},
    "layer": [
      {"data": {"name": "cancers"}, "transform": [{"filter": "datum.cancer !== 'Breast cancer'"}],
       "mark": {"type": "rule", "color": "#555555", "strokeDash": [3, 2], "strokeWidth": 1},
       "encoding": {"x": {"field": "cancer", "type": "nominal", "bandPosition": 0, "scale": {"type":"band","domain":["Breast cancer","Colon cancer","Glioblastoma","Hepatocellular carcinoma","Lung cancer","Ovarian cancer","Pancreatic cancer","Prostate cancer","Melanoma","Gastric cancer"],"paddingInner":0,"paddingOuter":0.41}, "axis": null}}},
      {"data": {"name": "boxes"}, "transform": [{"filter": "datum.gene === 'NPTN'"}],
       "encoding": {"x": {"field": "cancer", "type": "nominal", "axis": null}, "xOffset": {"field": "group", "type": "nominal", "scale": {"type":"band","domain":["Tumor","Normal"],"paddingInner":0.1,"paddingOuter":0.59}}},
       "layer": [
         {"mark": {"type": "rule", "color": "#8e8e8e", "strokeWidth": 1}, "encoding": {"y": {"field": "lo", "type": "quantitative", "title": "NPTN", "scale": {"domain": [-0.45, 9.63], "nice": false, "zero": false}, "axis": {"values": [0, 2, 4, 6, 8], "tickCount": 20, "format": "d"}}, "y2": {"field": "hi"}}},
         {"mark": {"type": "tick", "color": "#8e8e8e", "size": 8, "thickness": 1}, "encoding": {"y": {"field": "lo", "type": "quantitative", "title": "NPTN"}}},
         {"mark": {"type": "tick", "color": "#8e8e8e", "size": 8, "thickness": 1}, "encoding": {"y": {"field": "hi", "type": "quantitative", "title": "NPTN"}}},
         {"mark": {"type": "bar", "opacity": 1}, "encoding": {"y": {"field": "q1", "type": "quantitative", "title": "NPTN"}, "y2": {"field": "q3"},
           "fill": {"field": "group", "type": "nominal", "scale": {"domain": ["Tumor", "Normal"], "range": ["#f05c5e", "#6e6e6e"]}}}},
         {"mark": {"type": "bar", "width": 8, "color": "#3c3c3c", "opacity": 0.14}, "encoding": {"y": {"field": "lo", "type": "quantitative", "title": "NPTN"}, "y2": {"field": "hi"}}},
         {"mark": {"type": "tick", "color": "#2b1515", "size": 18, "thickness": 1.8}, "encoding": {"y": {"field": "med", "type": "quantitative", "title": "NPTN"}}}
       ]},
      {"data": {"name": "zeros"}, "transform": [{"filter": "datum.gene === 'NPTN'"}],
       "mark": {"type": "tick", "color": "#7a7a7a", "size": 16, "thickness": 1.5},
       "encoding": {"x": {"field": "cancer", "type": "nominal", "axis": null}, "xOffset": {"field": "group", "type": "nominal"}, "y": {"field": "v", "type": "quantitative", "title": "NPTN"}}},
      {"data": {"name": "brackets"}, "transform": [{"filter": "datum.gene === 'NPTN'"}],
       "mark": {"type": "line", "color": "#9a9a9a", "strokeWidth": 1},
       "encoding": {"x": {"field": "cancer", "type": "nominal", "axis": null}, "xOffset": {"field": "group", "type": "nominal"}, "y": {"field": "v", "type": "quantitative", "title": "NPTN"}, "detail": {"field": "cancer"}, "order": {"field": "k"}}},
      {"data": {"name": "sig"}, "transform": [{"filter": "datum.gene === 'NPTN' && datum.sig === '*'"}],
       "mark": {"type": "point", "shape": "M0,-1L0,1M-0.866,-0.5L0.866,0.5M-0.866,0.5L0.866,-0.5", "filled": false, "strokeWidth": 2.4, "size": 110, "opacity": 1},
       "encoding": {"x": {"field": "cancer", "type": "nominal", "axis": null}, "y": {"field": "y", "type": "quantitative", "title": "NPTN"},
         "stroke": {"field": "sig", "type": "nominal", "scale": {"domain": ["*"], "range": ["#ec1c24"]}}}},
      {"data": {"name": "sig"}, "transform": [{"filter": "datum.gene === 'NPTN' && datum.sig === 'ns'"}],
       "mark": {"type": "text", "fontSize": 16, "baseline": "middle"},
       "encoding": {"x": {"field": "cancer", "type": "nominal", "axis": null}, "y": {"field": "y", "type": "quantitative", "title": "NPTN"}, "text": {"field": "sig"},
         "color": {"field": "sig", "type": "nominal", "scale": {"domain": ["ns"], "range": ["#000000"]}}}}
    ]
  },
  {
    "width": 689, "height": 161,
    "layer": [
      {"data": {"name": "cancers"}, "transform": [{"filter": "datum.cancer !== 'Breast cancer'"}],
       "mark": {"type": "rule", "color": "#555555", "strokeDash": [3, 2], "strokeWidth": 1},
       "encoding": {"x": {"field": "cancer", "type": "nominal", "bandPosition": 0, "scale": {"type":"band","domain":["Breast cancer","Colon cancer","Glioblastoma","Hepatocellular carcinoma","Lung cancer","Ovarian cancer","Pancreatic cancer","Prostate cancer","Melanoma","Gastric cancer"],"paddingInner":0,"paddingOuter":0.41}, "axis": null}}},
      {"data": {"name": "table"}, "transform": [{"filter": "datum.row !== 'sssr'"}],
       "mark": {"type": "text", "fontSize": 15.5, "color": "#000000", "baseline": "middle"},
       "encoding": {"x": {"field": "cancer", "type": "nominal", "axis": null},
         "y": {"field": "row", "type": "nominal", "scale": {"type": "point", "domain": ["tumor", "normal", "g1", "sssrlab", "sssr", "g3", "g4", "g5"], "padding": 0.5},
           "axis": {"values": ["tumor", "normal", "sssrlab"], "title": null, "labelAngle": 0, "labelAlign": "right", "labelBaseline": "middle", "labelPadding": -19, "ticks": false, "tickSize": 0, "domain": false, "labelFontSize": 14.7, "labelColor": "#000000", "labelLineHeight": 18.5, "labelLimit": 300,
             "labelExpr": "datum.value === 'tumor' ? 'No. of\u00a0\u00a0\u00a0\u00a0(Tumor)' : datum.value === 'normal' ? 'samples\u00a0\u00a0(Normal)' : ['SSSRs\u00a0\u00a0', 'highly expressed\u00a0\u00a0', 'in tumors\u00a0\u00a0']"}},
         "text": {"field": "text"}}},
      {"data": {"name": "table"}, "transform": [{"filter": "datum.row === 'sssr'"}],
       "mark": {"type": "text", "fontSize": 15.5, "color": "#2b7bba", "baseline": "middle", "lineBreak": "\n", "lineHeight": 18.5,
         "dy": {"expr": "-min(length(split(datum.text, '\\n')) - 1, 2) * 9.25"}},
       "encoding": {"x": {"field": "cancer", "type": "nominal", "axis": null}, "y": {"field": "row", "type": "nominal"}, "text": {"field": "text"}}}
    ]
  }
]
}
